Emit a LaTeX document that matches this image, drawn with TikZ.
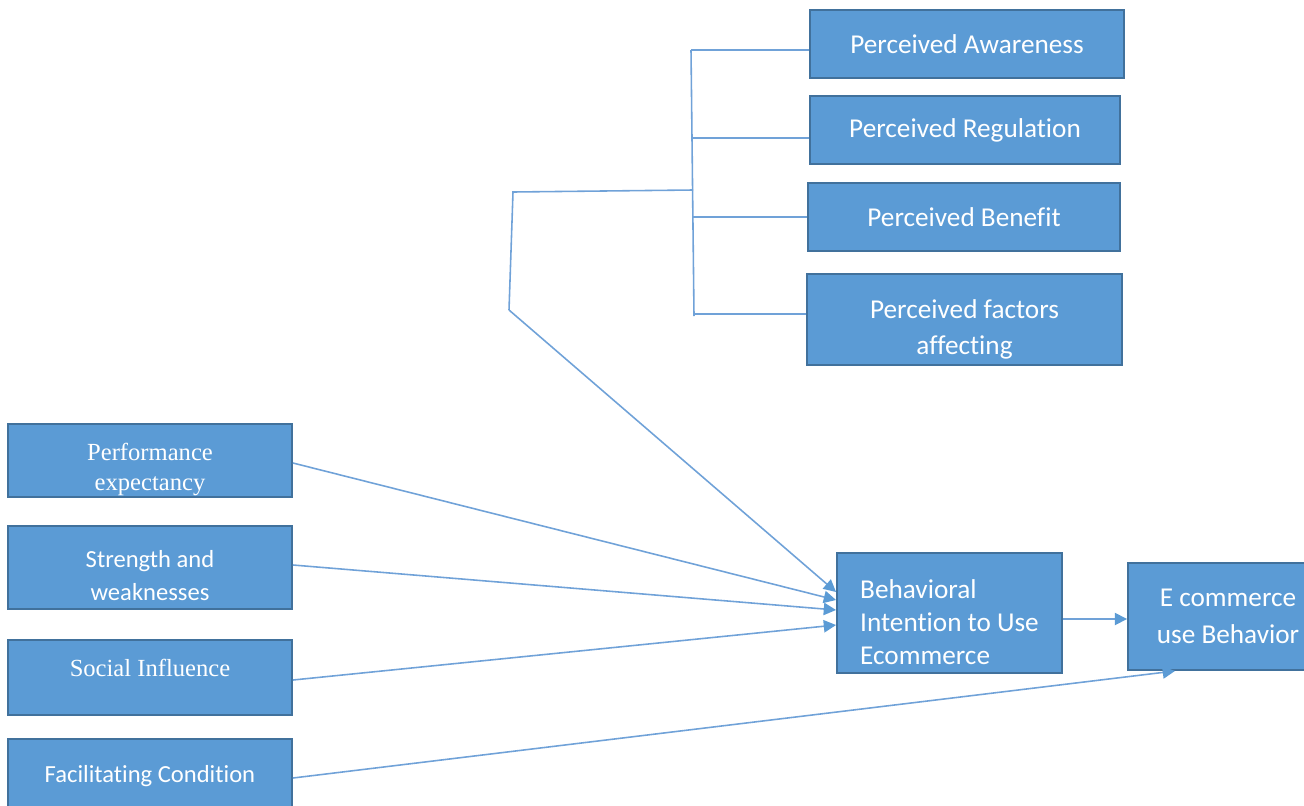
\documentclass[tikz,border=0pt]{standalone}
\usepackage{fontspec}
\setmainfont{Liberation Serif}
\newfontfamily\calibri[Ligatures=NoCommon]{Carlito}
\usepackage{tikz}
\usetikzlibrary{arrows.meta}

\definecolor{boxfill}{RGB}{91,155,213}
\definecolor{boxline}{RGB}{65,113,156}
\definecolor{wire}{RGB}{112,162,216}

\tikzset{
	box/.style={draw=boxline, line width=1.1pt, fill=boxfill, text=white, align=center, inner xsep=2pt, inner ysep=0pt},
	wirel/.style={draw=wire, line width=0.9pt},
	arr/.style={wirel, -{Triangle[length=7pt,width=7pt,color=boxfill]}},
}

\begin{document}
\begin{tikzpicture}[x=0.02cm, y=-0.02cm]
	\useasboundingbox (0,0) rectangle (1304,805);

	\node[box, minimum width=6.28cm, minimum height=1.36cm, font=\calibri\fontsize{15.5}{20}\selectfont] (aware) at (967,44) {Perceived Awareness};
	\node[box, minimum width=6.2cm, minimum height=1.36cm, font=\calibri\fontsize{15.5}{20}\selectfont] (regul) at (965,130) {Perceived Regulation};
	\node[box, minimum width=6.24cm, minimum height=1.36cm, font=\calibri\fontsize{15.5}{20}\selectfont] (benef) at (964,217) {Perceived Benefit};
	\node[box, minimum width=6.3cm, minimum height=1.82cm, font=\calibri\fontsize{15.5}{20.5}\selectfont] (factr) at (964.5,319.5) {\mbox{}\\[1.8pt]Perceived factors\\affecting};

	\node[box, minimum width=5.68cm, minimum height=1.46cm, font=\fontsize{14}{17}\selectfont] (perf) at (150,460.5) {\mbox{}\\[2.8pt]Performance\\expectancy};
	\node[box, minimum width=5.68cm, minimum height=1.66cm, font=\calibri\fontsize{14}{18.8}\selectfont] (strg) at (150,567.5) {\mbox{}\\Strength and\\weaknesses};
	\node[box, minimum width=5.68cm, minimum height=1.5cm, font=\fontsize{14}{17}\selectfont] (socl) at (150,677.5) {Social Influence\\[-6pt]\mbox{}};
	\node[box, minimum width=5.68cm, minimum height=1.5cm, font=\calibri\fontsize{14}{18.8}\selectfont] (facl) at (150,776.5) {Facilitating Condition};

	\node[box, minimum width=4.5cm, minimum height=2.4cm, align=left, font=\calibri\fontsize{15.5}{19}\selectfont] (behav) at (949.5,613) {\mbox{}\\[2.1pt]Behavioral\\Intention to Use\\Ecommerce};
	\node[box, minimum width=4.0cm, minimum height=2.14cm, font=\calibri\fontsize{15.5}{21}\selectfont] (ecom) at (1228,616.5) {E commerce\\use Behavior};

	\coordinate (btop) at (691,50);
	\coordinate (bbot) at (694,316);
	\coordinate (jreg) at (692,138);
	\coordinate (jben) at (693,217);
	\coordinate (jfac) at (694,314);
	\coordinate (hub) at (693,190);
	\coordinate (corner) at (513,192);
	\coordinate (knee) at (509,310);

	\draw[wirel] (btop) -- (bbot);
	\draw[wirel] (btop) -- (btop -| aware.west);
	\draw[wirel] (jreg) -- (jreg -| regul.west);
	\draw[wirel] (jben) -- (jben -| benef.west);
	\draw[wirel] (jfac) -- (jfac -| factr.west);
	\draw[wirel] (hub) -- (corner) -- (knee);
	\draw[arr] (knee) -- ([yshift=0.42cm]behav.west);

	\draw[arr] ([yshift=-0.05cm]perf.east) -- ([yshift=0.26cm]behav.west);
	\draw[arr] ([yshift=0.05cm]strg.east) -- ([yshift=0.06cm]behav.west);
	\draw[arr] ([yshift=-0.05cm]socl.east) -- ([yshift=-0.24cm]behav.west);
	\draw[arr] ([yshift=-0.03cm]facl.east) -- ([xshift=-1.06cm]ecom.south);
	\draw[arr] ([yshift=-0.12cm]behav.east) -- ([yshift=-0.12cm]behav.east -| ecom.west);
\end{tikzpicture}
\end{document}
